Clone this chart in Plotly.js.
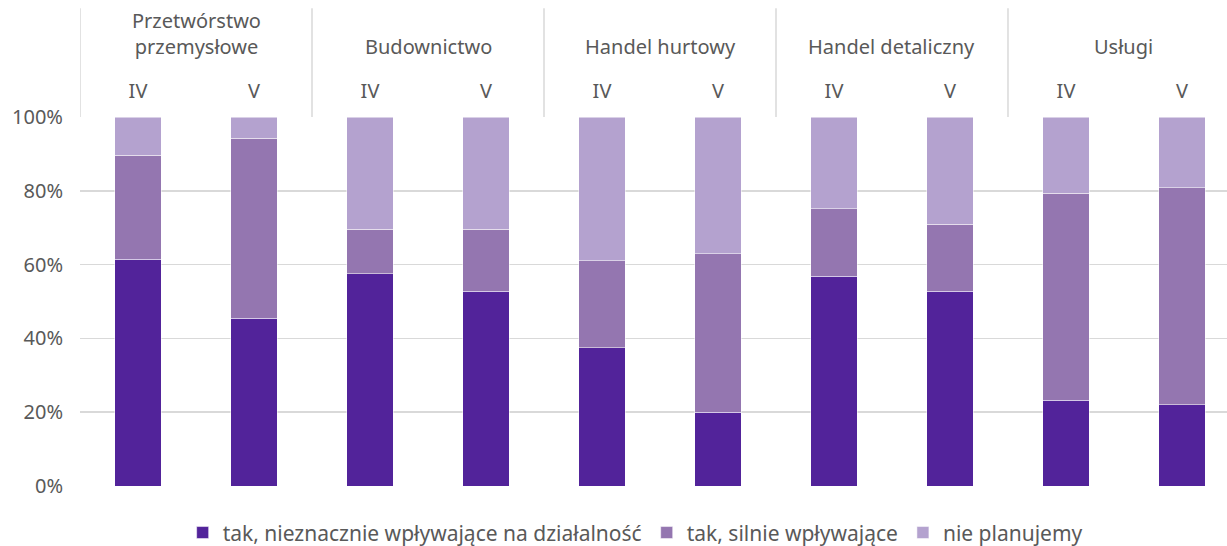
<!DOCTYPE html>
<html>
<head>
<meta charset="utf-8">
<script src="https://cdn.plot.ly/plotly-3.0.1.min.js"></script>
<style>html,body{margin:0;padding:0;background:#fff;}#chart{width:1227px;height:546px;}</style>
</head>
<body>
<div id="chart"></div>
<script>
const groups = ["Przetwórstwo<br>przemysłowe", "Budownictwo", "Handel hurtowy", "Handel detaliczny", "Usługi"];
const periods = ["IV", "V"];
const seriesNames = ["tak, nieznacznie wpływające na działalność", "tak, silnie wpływające", "nie planujemy"];
const slightly = [61.5, 45.5, 57.5, 52.8, 37.4, 20.0, 56.9, 52.8, 23.3, 22.0];
const strongly = [28.2, 48.8, 12.1, 16.8, 23.6, 42.9, 18.2, 18.2, 56.1, 58.8];
const notPlanned = [10.3, 5.7, 30.4, 30.4, 39.0, 37.1, 24.9, 29.0, 20.6, 19.2];
const colors = ["#52239a", "#9476b0", "#b4a2cf"];

const xIdx = [];
const xText = [];
groups.forEach((g, gi) => periods.forEach((p, pi) => { xIdx.push(gi * periods.length + pi); xText.push(p); }));

const font = {family: "Noto Sans, sans-serif", size: 20, color: "#595959"};
const traces = [slightly, strongly, notPlanned].map((vals, i) => ({
  type: "bar", x: xIdx, y: vals, name: seriesNames[i],
  marker: {color: colors[i], line: {color: "#ffffff", width: 0.5}},
  width: 0.4, hoverinfo: "y+name"
}));

const shapes = [];
const annotations = [];
groups.forEach((g, gi) => {
  const left = gi * periods.length - 0.5;
  shapes.push({type: "line", xref: "x", yref: "paper", x0: left, x1: left, y0: 1, y1: 1.295,
    line: {color: "#d9d9d9", width: 1.5}});
  annotations.push({xref: "x", yref: "paper", x: left + periods.length / 2, y: 1.15,
    xanchor: "center", yanchor: "bottom", showarrow: false, text: g, font: font});
});

const layout = {
  width: 1227, height: 546,
  margin: {l: 80, r: 0, t: 117, b: 60, autoexpand: false},
  barmode: "stack",
  paper_bgcolor: "#ffffff", plot_bgcolor: "#ffffff",
  font: font,
  xaxis: {side: "top", tickmode: "array", tickvals: xIdx, ticktext: xText,
    range: [-0.5, 9.388], showgrid: false, zeroline: false, showline: false,
    ticks: "", ticklabelstandoff: 14, tickfont: font, fixedrange: true, automargin: false},
  yaxis: {range: [0, 100], dtick: 20, ticksuffix: "%", showgrid: true,
    gridcolor: "#d9d9d9", gridwidth: 1.5, zeroline: false, showline: false,
    ticks: "", ticklabelstandoff: 16, tickfont: font, fixedrange: true, automargin: false},
  showlegend: true,
  legend: {orientation: "h", x: 0.484, xanchor: "center", yref: "container", y: 0.024, yanchor: "middle",
    font: {family: "Noto Sans, sans-serif", size: 21, color: "#595959"}, traceorder: "normal", itemclick: false},
  shapes: shapes,
  annotations: annotations
};

Plotly.newPlot("chart", traces, layout, {displayModeBar: false, staticPlot: true});
</script>
</body>
</html>
